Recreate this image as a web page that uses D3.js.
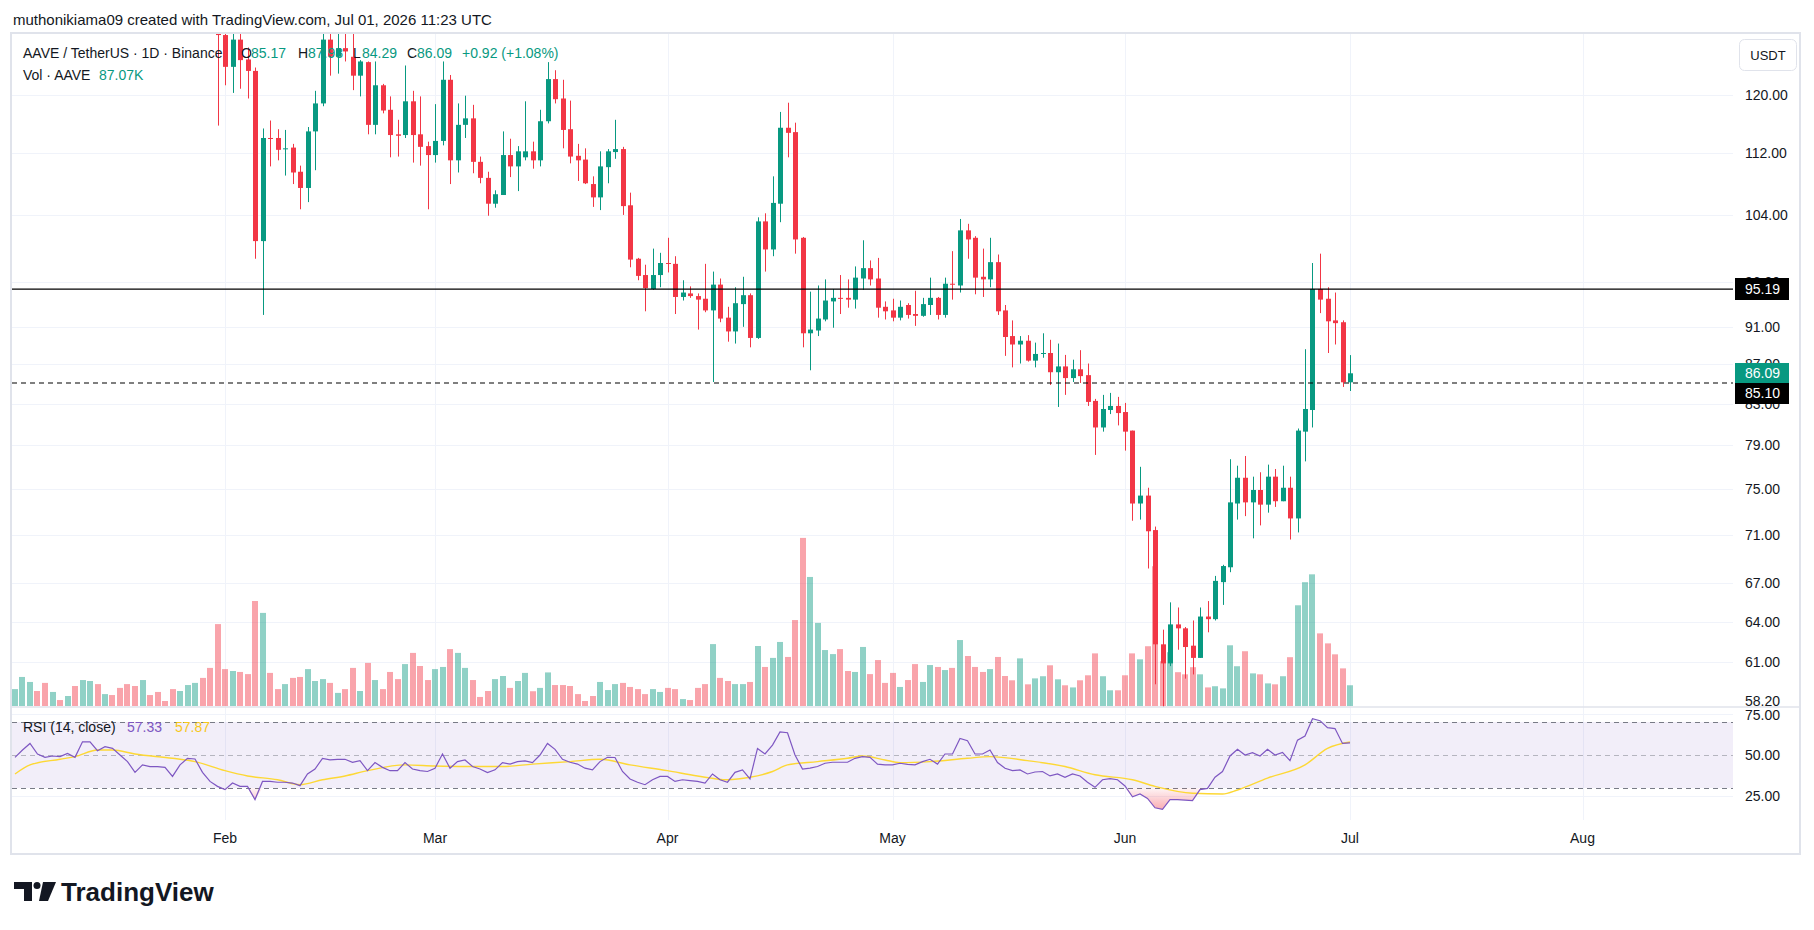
<!DOCTYPE html>
<html>
<head>
<meta charset="utf-8">
<script src="https://cdn.jsdelivr.net/npm/d3@7"></script>
<style>
body { margin: 0; background: #ffffff; }
svg text { font-family: "Liberation Sans", Arial, sans-serif; }
</style>
</head>
<body>
<div id="chart"></div>
<script>
//Global sizes
const width = 1814;
const height = 930;
const plotLeft = 12;
const plotRight = 1733;
const axisRight = 1800;
const priceTop = 34;
const priceBottom = 707;
const rsiTop = 708;
const rsiBottom = 820;
const frameBottom = 854;

const upColor = "#089981";
const downColor = "#f23645";
const textColor = "#131722";
const gridColor = "#f0f3fa";

//Daily candles [open, high, low, close], one small array per month
const firstDay = "2026-01-04";
const janOHLC = [
    [150,156,148,154],[154,159,152,157],[157,163,155,161],[161,162,154,156],[156,158,152,154.5],
    [154.5,157,152,155.5],[155.5,156.5,153,155],[155,158,154,156.5],[156.5,157.5,152,154],[154,163,153,161.5],
    [161.5,166,159,162],[162,163,156,158],[158,162,157,160.5],[160.5,162,158,159.5],[159.5,160.5,155,156.5],
    [156.5,157.5,152,153.5],[153.5,154,145,147],[147,152,146,150],[150,151.5,148,149.5],[149.5,151,147.5,149],
    [149,150,147,148.5],[148.5,149,142,144],[144,149,143,147.5],[147.5,152,146.5,150.5],[150,151.5,149,150.3],
    [150.3,151,142,143],[143,144,135,137],[137,138,115.7,128.9]
];
const febOHLC = [
    [128.9,130.5,121.4,124.1],[124.1,130.5,120.3,128.2],[128.2,129.6,120.9,125.1],[125.2,127.0,119.5,123.5],[123.5,124.0,98.7,100.8],
    [100.8,115.3,92.3,114.0],[114.0,116.4,110.2,113.9],[114.0,115.2,111.0,112.4],[112.5,115.1,109.0,112.6],[112.7,113.2,107.9,109.4],
    [109.5,110.3,104.7,107.4],[107.4,115.5,105.6,114.9],[114.9,120.6,109.7,118.8],[118.8,130.5,118.4,128.2],[128.2,130.5,122.8,125.6],
    [125.6,130.5,123.1,126.9],[126.9,130.5,124.9,126.4],[125.6,130.5,120.7,122.8],[122.8,125.1,119.8,124.9],[124.8,124.9,114.5,115.8],
    [115.8,124.9,114.5,121.4],[121.4,121.6,117.4,117.8],[117.9,119.8,111.4,114.4],[114.5,116.5,111.5,114.3],[114.4,124.3,114.0,119.1],
    [119.1,120.6,110.7,114.4],[114.5,119.8,110.3,112.8],[112.9,113.5,104.7,111.7]
];
const marOHLC = [
    [111.7,118.7,110.7,113.6],[113.6,124.9,113.0,122.2],[122.2,122.9,107.9,111.0],[111.0,118.8,109.4,115.8],[115.8,119.9,114.0,116.7],
    [116.7,118.6,109.3,110.8],[110.8,111.5,108.0,108.7],[108.7,109.5,103.9,105.4],[105.4,107.1,104.9,106.6],[106.5,114.9,106.5,111.7],
    [111.7,113.9,108.8,110.2],[110.2,112.9,107.0,112.2],[111.4,119.1,111.0,112.2],[112.2,113.5,109.9,111.0],[111.0,117.9,110.2,116.3],
    [116.3,124.8,116.0,122.3],[122.3,123.6,118.8,119.4],[119.5,122.2,112.6,115.1],[115.2,119.2,110.6,111.5],[111.6,113.2,108.3,111.0],
    [111.1,112.6,107.9,108.0],[107.9,108.9,105.0,106.2],[106.2,112.2,104.6,110.2],[110.1,112.5,108.0,112.2],[112.1,116.5,111.2,112.5],
    [112.5,112.8,104.0,105.1],[105.2,106.8,97.7,98.6],[98.7,98.8,96.2,96.7],[96.8,98.0,92.7,95.3],[95.2,99.9,95.1,96.8],
    [96.8,99.4,95.4,98.2]
];
const aprOHLC = [
    [98.2,101.2,97.1,98.1],[98.1,99.0,92.4,94.3],[94.3,96.2,93.9,94.8],[94.7,95.5,94.2,94.4],[94.4,94.7,90.7,94.0],
    [94.1,98.1,92.6,92.8],[92.8,97.2,85.2,95.7],[95.7,96.4,91.5,91.9],[92.0,93.2,89.4,90.5],[90.5,95.4,89.2,93.6],
    [93.5,96.6,91.0,94.5],[94.5,94.7,88.8,89.8],[89.8,103.7,89.7,103.2],[103.2,104.2,97.2,99.8],[99.8,108.9,99.0,105.5],
    [105.4,117.6,103.1,115.4],[115.4,118.9,111.4,114.7],[114.8,116.1,99.3,101.0],[101.2,101.3,88.8,90.3],[90.3,94.9,86.4,90.7],
    [90.6,95.6,90.0,91.9],[91.8,96.3,91.6,93.9],[93.8,95.2,90.9,94.2],[94.2,96.8,92.4,94.1],[94.2,96.3,93.1,94.0],
    [94.0,97.8,93.0,96.5],[96.4,100.9,95.1,97.6],[97.6,98.5,95.6,96.3],[96.4,98.8,92.0,93.1],[93.2,93.8,91.8,92.7]
];
const mayOHLC = [
    [92.8,94.1,91.6,92.0],[92.0,93.9,91.7,93.2],[93.4,93.6,91.9,92.3],[92.4,95.0,91.1,92.2],[92.2,94.2,92.1,93.5],
    [93.4,96.5,92.3,94.2],[94.2,94.3,91.8,92.3],[92.3,96.5,92.0,95.8],[95.8,99.6,94.0,95.7],[95.6,103.5,94.8,102.1],
    [102.1,102.9,98.7,101.0],[101.2,101.4,94.6,96.5],[96.6,99.9,94.3,96.3],[96.3,101.2,95.4,98.3],[98.3,99.2,92.3,92.7],
    [92.8,93.4,87.9,89.9],[90.0,91.7,86.7,89.1],[89.1,90.0,87.1,89.5],[89.5,90.1,87.3,87.4],[87.4,89.3,86.7,88.1],
    [88.1,90.3,87.7,88.2],[88.2,89.6,84.9,86.2],[86.2,89.2,82.7,86.8],[86.8,88.0,83.9,85.6],[85.6,87.5,85.2,86.5],
    [86.5,88.5,85.1,85.8],[85.9,87.1,82.8,83.2],[83.3,83.5,78.1,80.7],[80.7,83.9,80.3,82.5],[82.4,84.1,82.0,82.8],
    [82.8,83.7,80.9,82.1]
];
const junOHLC = [
    [82.2,83.1,78.5,80.3],[80.4,80.4,72.2,73.7],[73.7,77.0,72.3,74.4],[74.4,75.1,68.2,71.3],[71.4,71.7,59.4,62.3],
    [62.3,63.4,57.5,60.9],[60.9,65.5,60.7,63.8],[63.8,65.1,61.9,63.5],[63.5,63.6,59.8,62.1],[62.2,64.1,60.1,61.3],
    [61.3,65.1,61.3,64.4],[64.4,65.6,63.2,64.2],[64.2,67.6,64.1,67.2],[67.1,68.5,65.3,68.4],[68.3,77.7,67.9,73.8],
    [73.7,77.1,72.3,76.0],[76.0,78.0,72.6,73.8],[73.8,76.1,70.7,74.9],[74.9,76.5,71.8,73.6],[73.6,77.2,72.9,76.1],
    [76.1,76.8,73.4,73.9],[73.9,77.1,73.9,75.1],[75.1,76.1,70.6,72.4],[72.4,80.6,71.2,80.4],[80.3,88.6,77.5,82.5],
    [82.4,98.2,80.7,95.2],[95.2,99.3,92.5,94.0],[94.1,95.4,88.2,91.6],[91.7,94.8,89.1,91.4],[91.5,91.7,84.7,85.17]
];
const julOHLC = [
    [85.17,87.98,84.29,86.09]
];

//Daily volume in thousands of AAVE
const volJan = [71,122,101,63,97,59,25,42,84,109,105,92,50,46,76,92,84,109,46,59,21,71,63,88,97,118,160,344];
const volFeb = [155,147,143,134,441,391,139,71,92,118,122,155,105,113,97,55,71,160,63,181,109,71,143,113,176,223,168,109];
const volMar = [155,164,239,223,160,109,38,63,113,126,76,105,139,62,76,141,88,88,84,50,21,42,101,67,92,97,80,71,50,71,59];
const volApr = [76,71,29,25,76,92,260,118,105,92,92,101,252,164,202,269,206,361,706,542,349,235,218,239,147,143,248,134,193,97];
const volMay = [139,80,109,176,101,172,164,151,160,277,210,164,143,155,206,126,108,200,91,116,125,171,112,87,78,108,129,221,125,66,66];
const volJun = [129,221,196,251,587,188,226,142,133,163,133,78,83,74,255,167,230,137,133,95,91,125,205,423,520,553,305,263,217,158];
const volJul = [87.07];

//RSI (14, close) daily values
const rsiJan = [48.6,53,57,50.6,48.6,49.4,49,51,48.6,58,58,52.6,55,54,50,46,39.5,44,43,43,42.5,37,44,48,47.6,39.5,34,31];
const rsiFeb = [29,33,31,31,23,34,34,33.5,33.5,33,31.4,38.5,41.5,48,47,47.4,47.4,45.6,46.6,40.5,45.4,42.5,40.5,40.5,45.4,41.5,40.5,40];
const rsiMar = [42,50.6,42,46,47,43,41.5,39.3,41,45.4,44.5,46,46.4,45.4,50,57,53.4,47.4,45.6,44.5,42,41,46,48.6,48.5,40,35.5,33.5,32,35,37];
const rsiApr = [37,34,35,34.5,34,33,38.5,35,33.5,39.5,41,35.5,54,50.6,56,64,63.5,50,41.5,42,43,45,45.6,45.6,45.6,48,49,48.6,44.5,44];
const rsiMay = [44,45,44.3,44,46,47.4,44.5,50.6,50.6,60,58.7,50.6,50.6,53,45.4,42,40.5,41,38.5,39.7,40,37.3,38.5,36.5,38.5,37.3,33.5,30.4,35,35.7,35];
const rsiJun = [31.2,24.7,26.4,23.7,18,17,23,23,22.7,22.3,29,29.8,36.5,40,49.4,53.4,50,51.4,49.4,53.4,50,51.6,46.6,59,61.5,72,70.8,66.6,66,57];
const rsiJul = [57.33];

//RSI moving average, read at points along the yellow line
const rsiMaDays = ["2026-01-04","2026-01-06","2026-01-10","2026-01-12","2026-01-15","2026-01-17","2026-01-20","2026-01-25","2026-01-28",
    "2026-02-01","2026-02-04","2026-02-08","2026-02-11","2026-02-14","2026-02-17","2026-02-20","2026-02-25",
    "2026-03-01","2026-03-05","2026-03-10","2026-03-14","2026-03-19","2026-03-23","2026-03-27",
    "2026-04-01","2026-04-05","2026-04-09","2026-04-12","2026-04-15","2026-04-17","2026-04-21","2026-04-25","2026-04-27","2026-04-30",
    "2026-05-02","2026-05-06","2026-05-11","2026-05-14","2026-05-19","2026-05-24","2026-05-28",
    "2026-06-02","2026-06-05","2026-06-10","2026-06-14","2026-06-16","2026-06-20","2026-06-25","2026-06-28","2026-07-01"];
const rsiMaValues = [38.5,44,47.4,49,53,53,50.6,48,46,
    40.5,37.3,35,32,35,37.3,40.5,44,
    43.3,43,43,44.5,46,47.4,44,
    40.5,37.3,35,36.5,40,44,46,48,49.4,47,
    45.4,46,48,49,46.6,43,38,
    35,31,26.8,26.4,28.8,36,44,54,57.87];

//Axis ticks and drawn levels
const priceTicks = [120, 112, 104, 96, 91, 87, 83, 79, 75, 71, 67, 64, 61];
const priceEdgeLabel = 58.2;
const rsiTicks = [75, 50, 25];
const rsiLevels = [70, 50, 30];
const monthTicks = ["2026-02-01","2026-03-01","2026-04-01","2026-05-01","2026-06-01","2026-07-01","2026-08-01"];
const resistanceLevel = 95.19;
const supportLevel = 85.10;

//Build rows
const parseDay = d3.utcParse("%Y-%m-%d");
const ohlc = [].concat(janOHLC, febOHLC, marOHLC, aprOHLC, mayOHLC, junOHLC, julOHLC);
const volumes = [].concat(volJan, volFeb, volMar, volApr, volMay, volJun, volJul);
const rsiValues = [].concat(rsiJan, rsiFeb, rsiMar, rsiApr, rsiMay, rsiJun, rsiJul);
const start = parseDay(firstDay);
const candles = ohlc.map((d, i) => ({
    date: d3.utcDay.offset(start, i),
    open: d[0], high: d[1], low: d[2], close: d[3],
    volume: volumes[i],
    rsi: rsiValues[i]
}));
const rsiMa = rsiMaDays.map((d, i) => ({date: parseDay(d), value: rsiMaValues[i]}));
const last = candles[candles.length - 1];

//Scales
const x = d3.scaleUtc()
    .domain([parseDay("2026-02-01"), parseDay("2026-08-01")])
    .range([225, 1582.5]);
const y = d3.scaleLog()
    .domain([120, 61])
    .range([95, 662]);
const yVol = d3.scaleLinear()
    .domain([0, 840])
    .range([706, 506]);
const yRsi = d3.scaleLinear()
    .domain([30, 70])
    .range([788, 722]);

const svg = d3.select("#chart")
    .append("svg")
    .attr("width", width)
    .attr("height", height);

const defs = svg.append("defs");
defs.append("clipPath").attr("id", "priceClip")
    .append("rect")
    .attr("x", plotLeft).attr("y", priceTop)
    .attr("width", plotRight - plotLeft).attr("height", priceBottom - priceTop);
defs.append("clipPath").attr("id", "rsiClip")
    .append("rect")
    .attr("x", plotLeft).attr("y", rsiTop)
    .attr("width", plotRight - plotLeft).attr("height", rsiBottom - rsiTop);

//gradients for oversold / overbought fills
const lowGrad = defs.append("linearGradient").attr("id", "lowGrad")
    .attr("gradientUnits", "userSpaceOnUse")
    .attr("x1", 0).attr("x2", 0).attr("y1", yRsi(30)).attr("y2", yRsi(12));
lowGrad.append("stop").attr("offset", 0).attr("stop-color", downColor).attr("stop-opacity", 0.05);
lowGrad.append("stop").attr("offset", 1).attr("stop-color", downColor).attr("stop-opacity", 0.55);
const highGrad = defs.append("linearGradient").attr("id", "highGrad")
    .attr("gradientUnits", "userSpaceOnUse")
    .attr("x1", 0).attr("x2", 0).attr("y1", yRsi(70)).attr("y2", yRsi(88));
highGrad.append("stop").attr("offset", 0).attr("stop-color", upColor).attr("stop-opacity", 0.05);
highGrad.append("stop").attr("offset", 1).attr("stop-color", upColor).attr("stop-opacity", 0.55);

//Header
svg.append("text")
    .attr("x", 13)
    .attr("y", 25)
    .attr("font-size", 15)
    .attr("fill", textColor)
    .text("muthonikiama09 created with TradingView.com, Jul 01, 2026 11:23 UTC");

//Chart frame
svg.append("rect")
    .attr("x", 11).attr("y", 33)
    .attr("width", axisRight - 11).attr("height", frameBottom - 33)
    .attr("fill", "none")
    .attr("stroke", "#e0e3eb")
    .attr("stroke-width", 2);

//Grid
const grid = svg.append("g");
grid.selectAll(".vgrid")
    .data(monthTicks)
    .enter()
    .append("line")
    .attr("x1", d => Math.round(x(parseDay(d))) + 0.5)
    .attr("x2", d => Math.round(x(parseDay(d))) + 0.5)
    .attr("y1", priceTop)
    .attr("y2", rsiBottom)
    .attr("stroke", gridColor);
grid.selectAll(".hgrid")
    .data(priceTicks)
    .enter()
    .append("line")
    .attr("x1", plotLeft)
    .attr("x2", plotRight)
    .attr("y1", d => Math.round(y(d)) + 0.5)
    .attr("y2", d => Math.round(y(d)) + 0.5)
    .attr("stroke", gridColor);
grid.selectAll(".rgrid")
    .data([75, 25])
    .enter()
    .append("line")
    .attr("x1", plotLeft)
    .attr("x2", plotRight)
    .attr("y1", d => Math.round(yRsi(d)) + 0.5)
    .attr("y2", d => Math.round(yRsi(d)) + 0.5)
    .attr("stroke", gridColor);

//Volume bars
const pricePane = svg.append("g").attr("clip-path", "url(#priceClip)");
pricePane.selectAll(".vol")
    .data(candles)
    .enter()
    .append("rect")
    .attr("x", d => Math.round(x(d.date)) - 3)
    .attr("y", d => yVol(d.volume))
    .attr("width", 6)
    .attr("height", d => yVol(0) - yVol(d.volume))
    .attr("fill", d => d.close >= d.open ? upColor : downColor)
    .attr("fill-opacity", 0.45);

//Candles: wick then body
const candleG = pricePane.selectAll(".candle")
    .data(candles)
    .enter()
    .append("g");
candleG.append("line")
    .attr("x1", d => Math.round(x(d.date)) + 0.5)
    .attr("x2", d => Math.round(x(d.date)) + 0.5)
    .attr("y1", d => y(d.high))
    .attr("y2", d => y(d.low))
    .attr("stroke", d => d.close >= d.open ? upColor : downColor)
    .attr("stroke-width", 1);
candleG.append("rect")
    .attr("x", d => Math.round(x(d.date)) - 2)
    .attr("y", d => y(Math.max(d.open, d.close)))
    .attr("width", 5)
    .attr("height", d => Math.max(1, y(Math.min(d.open, d.close)) - y(Math.max(d.open, d.close))))
    .attr("fill", d => d.close >= d.open ? upColor : downColor);

//Horizontal levels drawn on the chart
pricePane.append("line")
    .attr("x1", plotLeft).attr("x2", plotRight)
    .attr("y1", y(resistanceLevel)).attr("y2", y(resistanceLevel))
    .attr("stroke", "#000")
    .attr("stroke-width", 1.2);
pricePane.append("line")
    .attr("x1", plotLeft).attr("x2", plotRight)
    .attr("y1", y(supportLevel)).attr("y2", y(supportLevel))
    .attr("stroke", "#000")
    .attr("stroke-width", 1.2)
    .attr("stroke-dasharray", "5,4");

//Legend
const legend = svg.append("g").attr("font-size", 14);
const legendParts = [
    {x: 23, text: "AAVE / TetherUS · 1D · Binance", color: textColor},
    {x: 241, text: "O", color: textColor},
    {x: 251, text: last.open.toFixed(2), color: upColor},
    {x: 298, text: "H", color: textColor},
    {x: 308, text: last.high.toFixed(2), color: upColor},
    {x: 353, text: "L", color: textColor},
    {x: 362, text: last.low.toFixed(2), color: upColor},
    {x: 407, text: "C", color: textColor},
    {x: 417, text: last.close.toFixed(2), color: upColor},
    {x: 462, text: "+0.92 (+1.08%)", color: upColor}
];
legend.selectAll(".lg")
    .data(legendParts)
    .enter()
    .append("text")
    .attr("x", d => d.x)
    .attr("y", 58)
    .attr("fill", d => d.color)
    .text(d => d.text);
legend.append("text")
    .attr("x", 23).attr("y", 80)
    .attr("fill", textColor)
    .text("Vol · AAVE");
legend.append("text")
    .attr("x", 99).attr("y", 80)
    .attr("fill", upColor)
    .text(last.volume.toFixed(2) + "K");

//Pane divider
svg.append("line")
    .attr("x1", plotLeft).attr("x2", axisRight)
    .attr("y1", priceBottom).attr("y2", priceBottom)
    .attr("stroke", "#e0e3eb")
    .attr("stroke-width", 1.5);

//RSI pane
const rsiPane = svg.append("g").attr("clip-path", "url(#rsiClip)");
rsiPane.append("rect")
    .attr("x", plotLeft)
    .attr("y", yRsi(70))
    .attr("width", plotRight - plotLeft)
    .attr("height", yRsi(30) - yRsi(70))
    .attr("fill", "#7e57c2")
    .attr("fill-opacity", 0.1);
rsiPane.selectAll(".level")
    .data(rsiLevels)
    .enter()
    .append("line")
    .attr("x1", plotLeft).attr("x2", plotRight)
    .attr("y1", d => Math.round(yRsi(d)) + 0.5)
    .attr("y2", d => Math.round(yRsi(d)) + 0.5)
    .attr("stroke", "#787b86")
    .attr("stroke-opacity", d => d === 50 ? 0.5 : 1)
    .attr("stroke-dasharray", "5,4");

//oversold and overbought fills
rsiPane.append("path")
    .datum(candles)
    .attr("d", d3.area()
        .x(d => x(d.date))
        .y0(yRsi(30))
        .y1(d => yRsi(Math.min(d.rsi, 30))))
    .attr("fill", "url(#lowGrad)");
rsiPane.append("path")
    .datum(candles)
    .attr("d", d3.area()
        .x(d => x(d.date))
        .y0(yRsi(70))
        .y1(d => yRsi(Math.max(d.rsi, 70))))
    .attr("fill", "url(#highGrad)");

rsiPane.append("path")
    .datum(rsiMa)
    .attr("d", d3.line().curve(d3.curveMonotoneX)
        .x(d => x(d.date))
        .y(d => yRsi(d.value)))
    .attr("fill", "none")
    .attr("stroke", "#fdd835")
    .attr("stroke-width", 1.4);
rsiPane.append("path")
    .datum(candles)
    .attr("d", d3.line()
        .x(d => x(d.date))
        .y(d => yRsi(d.rsi)))
    .attr("fill", "none")
    .attr("stroke", "#7e57c2")
    .attr("stroke-width", 1.2);

//RSI legend
const rsiLegend = svg.append("g").attr("font-size", 14);
rsiLegend.append("text").attr("x", 23).attr("y", 732).attr("fill", textColor).text("RSI (14, close)");
rsiLegend.append("text").attr("x", 127).attr("y", 732).attr("fill", "#7e57c2").text(last.rsi.toFixed(2));
rsiLegend.append("text").attr("x", 175).attr("y", 732).attr("fill", "#f7c71a").text(rsiMaValues[rsiMaValues.length - 1].toFixed(2));

//Price scale labels
const axisG = svg.append("g").attr("font-size", 14).attr("fill", textColor);
axisG.selectAll(".pl")
    .data(priceTicks)
    .enter()
    .append("text")
    .attr("x", 1745)
    .attr("y", d => y(d))
    .attr("dy", "0.35em")
    .text(d => d3.format(".2f")(d));
axisG.append("text")
    .attr("x", 1745)
    .attr("y", y(priceEdgeLabel))
    .attr("dy", "0.35em")
    .text(d3.format(".2f")(priceEdgeLabel));
axisG.selectAll(".rl")
    .data(rsiTicks)
    .enter()
    .append("text")
    .attr("x", 1745)
    .attr("y", d => Math.max(yRsi(d), rsiTop + 7))
    .attr("dy", "0.35em")
    .text(d => d3.format(".2f")(d));

//Price tags: drawn levels and last price
const tags = [
    {value: resistanceLevel, top: Math.round(y(resistanceLevel)) - 11, h: 22, fill: "#000000"},
    {value: last.close, top: Math.round(y(last.close)) - 10, h: 20, fill: upColor},
    {value: supportLevel, top: Math.round(y(last.close)) + 10, h: 21, fill: "#000000"}
];
const tagG = svg.selectAll(".tag")
    .data(tags)
    .enter()
    .append("g");
tagG.append("rect")
    .attr("x", 1735)
    .attr("y", d => d.top)
    .attr("width", 54)
    .attr("height", d => d.h)
    .attr("fill", d => d.fill);
tagG.append("text")
    .attr("x", 1745)
    .attr("y", d => d.top + d.h / 2)
    .attr("dy", "0.35em")
    .attr("font-size", 14)
    .attr("fill", "#ffffff")
    .text(d => d3.format(".2f")(d.value));

//Currency button
svg.append("rect")
    .attr("x", 1739.5).attr("y", 39.5)
    .attr("width", 57).attr("height", 31)
    .attr("rx", 5)
    .attr("fill", "#ffffff")
    .attr("stroke", "#e0e3eb");
svg.append("text")
    .attr("x", 1768).attr("y", 55)
    .attr("dy", "0.35em")
    .attr("text-anchor", "middle")
    .attr("font-size", 13)
    .attr("fill", textColor)
    .text("USDT");

//Time axis
svg.append("g")
    .selectAll("text")
    .data(monthTicks)
    .enter()
    .append("text")
    .attr("x", d => x(parseDay(d)))
    .attr("y", 843)
    .attr("text-anchor", "middle")
    .attr("font-size", 14)
    .attr("fill", textColor)
    .text(d => d3.utcFormat("%b")(parseDay(d)));

//TradingView logo
const logo = svg.append("g").attr("fill", textColor);
logo.append("path").attr("d", "M14,882 H32 V901 H24 V889 H14 Z");
logo.append("circle").attr("cx", 37).attr("cy", 885.5).attr("r", 3.5);
logo.append("path").attr("d", "M43,882 H56 L48,901 H39 Z");
logo.append("text")
    .attr("x", 61)
    .attr("y", 901)
    .attr("font-size", 26)
    .attr("font-weight", "bold")
    .attr("fill", textColor)
    .text("TradingView");
</script>
</body>
</html>
